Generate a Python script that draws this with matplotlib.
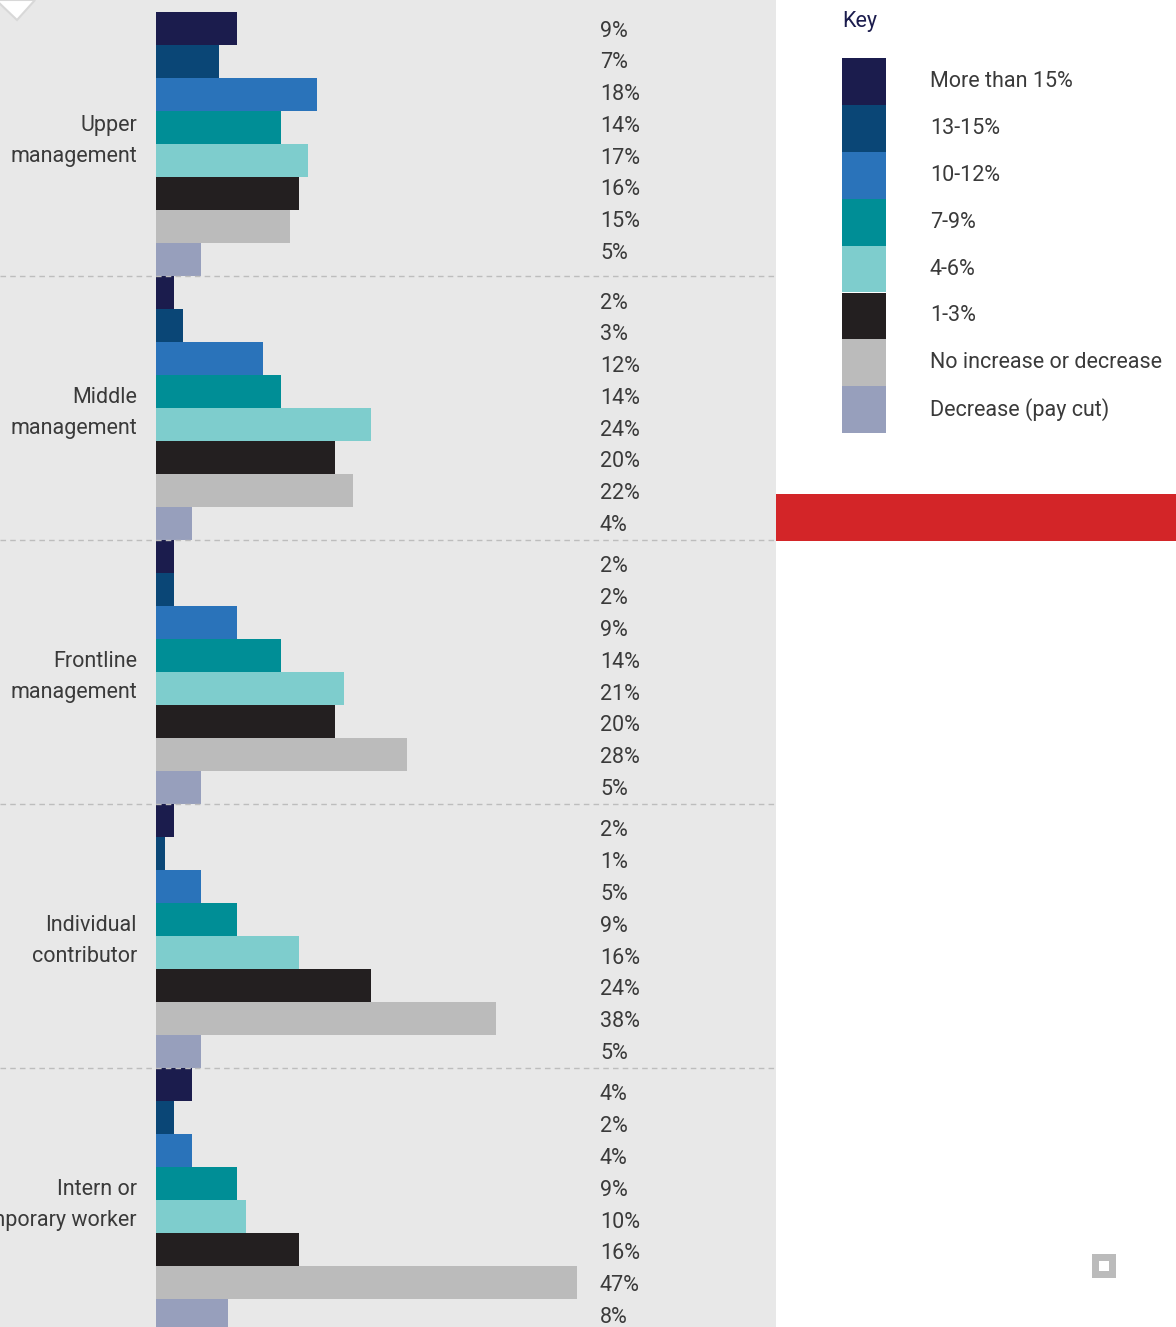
import numpy as np
import matplotlib.pyplot as plt
from matplotlib.patches import Rectangle, Polygon

plt.rcParams['font.family'] = ['Roboto', 'DejaVu Sans']

groups = ["Upper\nmanagement", "Middle\nmanagement", "Frontline\nmanagement",
          "Individual\ncontributor", "Intern or\ntemporary worker"]
keys = ["More than 15%", "13-15%", "10-12%", "7-9%", "4-6%", "1-3%",
        "No increase or decrease", "Decrease (pay cut)"]
upper = [9, 7, 18, 14, 17, 16, 15, 5]
middle = [2, 3, 12, 14, 24, 20, 22, 4]
frontline = [2, 2, 9, 14, 21, 20, 28, 5]
individual = [2, 1, 5, 9, 16, 24, 38, 5]
intern = [4, 2, 4, 9, 10, 16, 47, 8]
colors = ["#1b1c4d", "#0a4676", "#2a73ba", "#008e96", "#7ecdcd",
          "#231f20", "#bbbbbb", "#979fbc"]

values = [upper, middle, frontline, individual, intern]
txt = "#3a3a3a"
fs = 15.5
W, H = 1176, 1327
px = 8.95  # pixels per percent
rowh = 33.0  # pixels per bar

fig = plt.figure(figsize=(W / 100, H / 100), dpi=100)
fig.patch.set_facecolor("white")

# main chart axes covers the grey panel
ax = fig.add_axes([0, 0, 776 / W, 1])
ax.set_facecolor("#e8e8e8")
ax.set_xlim(-156 / px, (776 - 156) / px)
ax.set_ylim((H - 12) / rowh, -12 / rowh)
for s in ax.spines.values():
    s.set_visible(False)
ax.set_xticks([])
ax.set_yticks([])

for i, vals in enumerate(values):
    # the first block's text sits a little higher in the original
    shift = -8 if i == 0 else 0
    for j, v in enumerate(vals):
        k = i * 8 + j
        ax.barh(k, v, height=1, align="edge", color=colors[j], linewidth=0)
        ly = i * 8 + (27 + shift + 31.75 * j) / rowh
        ax.text(49.6, ly, f"{v}%", va="center", ha="left",
                fontsize=fs, color=txt)
    ax.text(-19 / px, i * 8 + (137 + shift) / rowh, groups[i], ha="right",
            va="center", fontsize=fs, color=txt, linespacing=1.65)
    if i > 0:
        ax.axhline(i * 8, color="#bdbdbd", lw=1, ls=(0, (4, 3)))

# white chevron at top left
ax.add_patch(Polygon([(-160 / px, -12 / rowh), (-121 / px, -12 / rowh), (-139 / px, 8 / rowh)],
                     closed=True, facecolor="white", edgecolor="#d8d8d8", lw=1.5,
                     transform=ax.transData, clip_on=True))

# key panel drawn in pixel coordinates
lx = fig.add_axes([0, 0, 1, 1], facecolor="none")
lx.set_xlim(0, W)
lx.set_ylim(H, 0)
lx.axis("off")
lx.text(842, 21, "Key", fontsize=fs, color="#1b1c4d", va="center", ha="left")
sh = 46.9
for j, lab in enumerate(keys):
    y0 = 58 + j * sh
    lx.add_patch(Rectangle((842, y0), 44, sh, facecolor=colors[j], lw=0))
    lx.text(930, y0 + sh / 2, lab, fontsize=fs, color=txt, va="center",
            ha="left")

lx.add_patch(Rectangle((776, 494), 400, 47, facecolor="#d32528", lw=0))
lx.add_patch(Rectangle((1092, 1254), 24, 24, facecolor="#bbbbbb", lw=0))
lx.add_patch(Rectangle((1099, 1261), 10, 10, facecolor="white", lw=0))

fig.savefig("out.png", dpi=100)
